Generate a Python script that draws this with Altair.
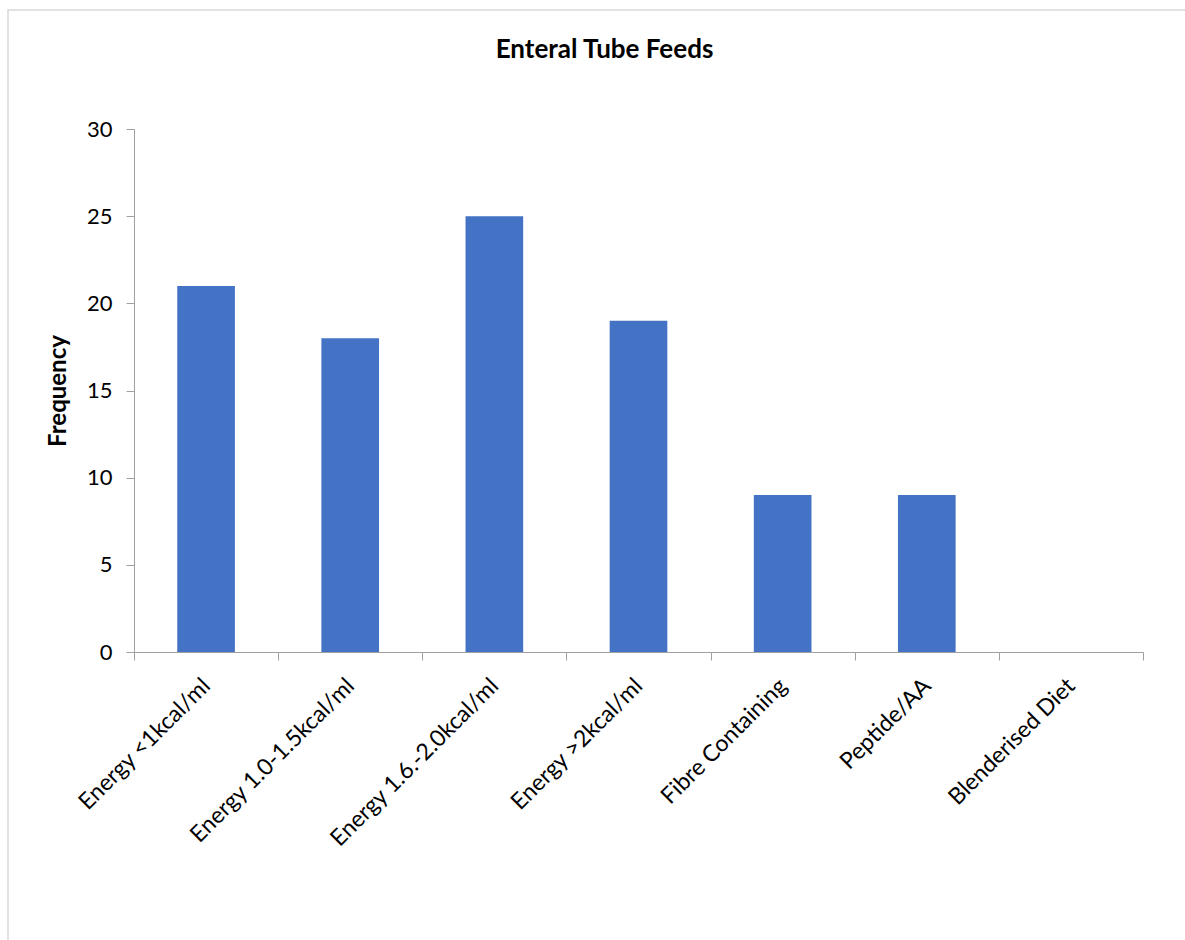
import altair as alt
import pandas as pd

categories = ["Energy <1kcal/ml", "Energy 1.0-1.5kcal/ml", "Energy 1.6.-2.0kcal/ml",
              "Energy >2kcal/ml", "Fibre Containing", "Peptide/AA", "Blenderised Diet"]
frequency = [21, 18, 25, 19, 9, 9, 0]
chart_title = "Enteral Tube Feeds"

df = pd.DataFrame({"category": categories, "frequency": frequency})

FONT = "Lato"
W, H = 1009, 523

bars = alt.Chart(df).mark_bar(color="#4472C4", width={"band": 0.4}).encode(
    x=alt.X("category:N", sort=categories,
            scale=alt.Scale(paddingInner=0, paddingOuter=0),
            axis=alt.Axis(title=None, labelAngle=-45, labelAlign="right", labelBaseline="middle",
                          labelFontSize=23, labelFont=FONT, labelColor="#000", labelLimit=0,
                          tickBand="extent", tickSize=8, tickColor="#a0a0a0",
                          domainColor="#a0a0a0", labelPadding=22, labelOverlap=False)),
    y=alt.Y("frequency:Q", scale=alt.Scale(domain=[0, 30]),
            axis=alt.Axis(title="Frequency", values=[0, 5, 10, 15, 20, 25, 30], grid=False,
                          labelFontSize=22, labelFont=FONT, labelColor="#000",
                          tickSize=8, tickColor="#a0a0a0", domainColor="#a0a0a0",
                          labelPadding=14, titleFont=FONT, titleFontSize=24,
                          titleFontWeight="bold", titleColor="#000",
                          titleX=-64, titleY=H / 2, titleBaseline="bottom", titleAngle=-90)),
)

border = alt.Chart(pd.DataFrame({"a": [0]})).mark_rect(
    fill=None, stroke="#d9d9d9", strokeWidth=1.5
).encode(x=alt.value(-126), x2=alt.value(W + 60), y=alt.value(-119), y2=alt.value(H + 320))

title = alt.Chart(pd.DataFrame({"t": [chart_title]})).mark_text(
    font=FONT, fontSize=26, fontWeight="bold", color="#000", align="center", baseline="alphabetic"
).encode(text="t:N", x=alt.value(W / 2 - 34), y=alt.value(-71))

chart = alt.layer(border, bars, title).properties(
    width=W, height=H,
    autosize=alt.AutoSizeParams(type="none"),
    padding={"left": 134, "top": 129, "right": 42, "bottom": 288},
).configure_view(stroke=None)

chart.save("out.html", embed_options={"renderer": "svg", "actions": False})
